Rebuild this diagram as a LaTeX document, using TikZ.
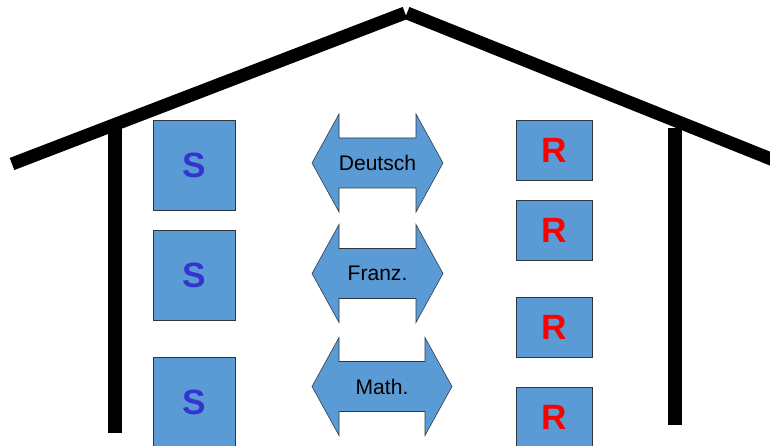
\documentclass[tikz,border=0pt]{standalone}
\usepackage{fontspec}
\setmainfont{Liberation Sans}
\usepackage{tikz}
\usetikzlibrary{calc, positioning}

\definecolor{boxblue}{HTML}{5B9BD5}
\definecolor{sblue}{HTML}{3434CF}
\definecolor{edgegray}{HTML}{2E3640}

\tikzset{
  sbox/.style={draw=edgegray, fill=boxblue, inner sep=0pt,
    minimum width=2.05cm, minimum height=2.25cm,
    text=sblue, font=\fontsize{25}{30}\selectfont\bfseries},
  rbox/.style={draw=edgegray, fill=boxblue, inner sep=0pt,
    minimum width=1.9cm, minimum height=1.5cm,
    text=red, font=\fontsize{25}{30}\selectfont\bfseries},
  subject/.style={draw=edgegray, fill=boxblue, line join=miter},
  subjtext/.style={font=\fontsize{15}{18}\selectfont, inner sep=0pt},
  roof/.style={line width=9.2pt},
  wall/.style={line width=10.6pt}
}

% name, centre, half length, text
\newcommand{\subjarrow}[4]{
  \coordinate (#1) at #2;
  \draw[subject] ($(#1)+(-#3,0)$) -- ($(#1)+(-#3+27,-49)$) -- ($(#1)+(-#3+27,-25)$)
    -- ($(#1)+(#3-27,-25)$) -- ($(#1)+(#3-27,-49)$) -- ($(#1)+(#3,0)$)
    -- ($(#1)+(#3-27,49)$) -- ($(#1)+(#3-27,25)$) -- ($(#1)+(-#3+27,25)$)
    -- ($(#1)+(-#3+27,49)$) -- cycle;
  \node[subjtext] (#1_text) at (#1) {#4};
}

\begin{document}
\begin{tikzpicture}[x=0.025cm, y=-0.025cm]
    \useasboundingbox (0,0) rectangle (770,446);
    \clip (0,0) rectangle (770,446);

    \coordinate (eave_l) at (12,164);
    \coordinate (peak) at (406,13);
    \coordinate (eave_r) at (776,161);

    \draw[roof] (eave_l) -- ($(peak)+(-1,0)$);
    \draw[roof] ($(peak)+(1,0)$) -- (eave_r);

    \draw[wall] (115,128) -- (115,433);
    \draw[wall] (675,128) -- (675,425);

    \node[sbox] (s_1) at (194,165) {S};
    \node[sbox] (s_2) at (194,275.5) {S};
    \node[sbox] (s_3) at (194,402) {S};

    \node[rbox] (r_1) at (554,150) {R};
    \node[rbox] (r_2) at (554,230.5) {R};
    \node[rbox] (r_3) at (554,327) {R};
    \node[rbox] (r_4) at (554,417) {R};

    \subjarrow{deutsch}{(377.5,163)}{65.5}{Deutsch}
    \subjarrow{franz}{(377.5,273.5)}{65.5}{Franz.}
    \subjarrow{math}{(382,386.5)}{70}{Math.}
\end{tikzpicture}
\end{document}
